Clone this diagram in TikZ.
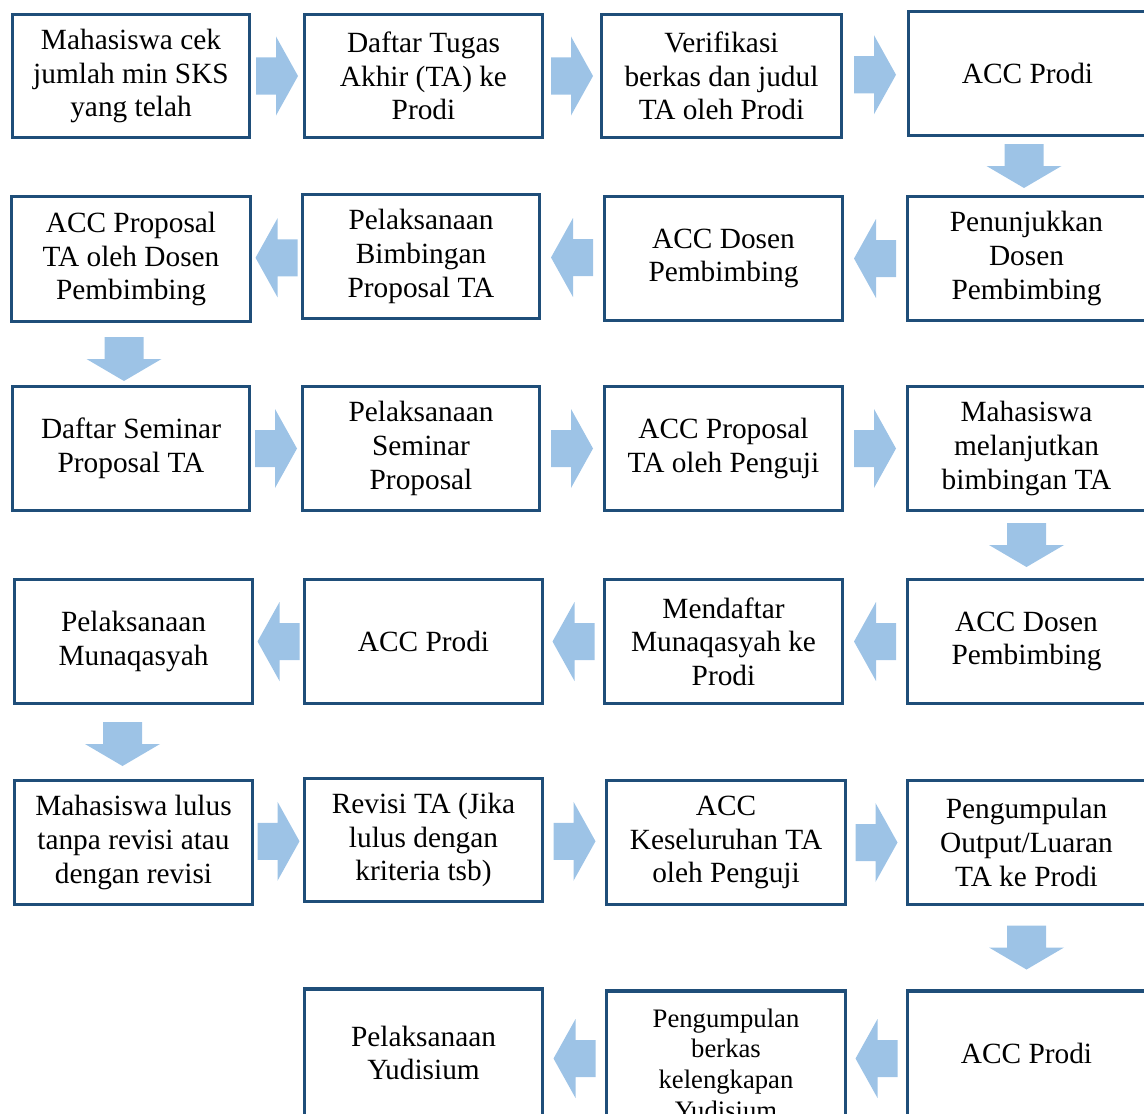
\documentclass[tikz,border=0pt]{standalone}
\usepackage{fontspec}
\newfontfamily\tnr{Liberation Serif}
\usetikzlibrary{calc}
\definecolor{boxline}{HTML}{1F4E79}
\definecolor{arrowfill}{HTML}{9DC3E6}
\tikzset{
  box/.style={draw=boxline, line width=2.6pt, inner sep=0pt,
    align=center, font=\tnr\fontsize{22}{25.2}\selectfont},
  smalltext/.style={font=\tnr\fontsize{20}{23}\selectfont},
  harrow/.pic={\fill[arrowfill] (-21,-18.5) -- (-1,-18.5) -- (-1,-39.5) -- (21,0)
     -- (-1,39.5) -- (-1,18.5) -- (-21,18.5) -- cycle;},
  varrow/.pic={\fill[arrowfill] (-22,-19.5) -- (0,-19.5) -- (0,-37.5) -- (22,0)
     -- (0,37.5) -- (0,19.5) -- (-22,19.5) -- cycle;},
}
% \bxx[extra]{name}{left}{top}{right}{bottom}{text}
\newcommand\bxx[7][]{\node[box,#1,
   minimum width={(#5-#3-3.5)*0.75pt},
   minimum height={(#6-#4-3.5)*0.75pt}]
   (#2) at ({(#3+#5)/2},{(#4+#6)/2}) {#7};}
\begin{document}
\begin{tikzpicture}[x=0.75pt,y=-0.75pt]
\useasboundingbox (0,0) rectangle (1144,1113);
% row 1
\bxx{A1}{11}{13}{251}{139}{Mahasiswa cek\\jumlah min SKS\\yang telah}
\bxx{A2}{303}{13}{544}{139}{Daftar Tugas\\Akhir (TA) ke\\Prodi}
\bxx{A3}{600}{13}{843}{139}{Verifikasi\\berkas dan judul\\TA oleh Prodi}
\bxx{A4}{907}{10}{1148}{137}{ACC Prodi}
% row 2
\bxx{B1}{10}{195}{252}{323}{ACC Proposal\\TA oleh Dosen\\Pembimbing}
\bxx{B2}{301}{193}{541}{320}{Pelaksanaan\\Bimbingan\\Proposal TA}
\bxx{B3}{603}{195}{844}{322}{ACC Dosen\\Pembimbing}
\bxx{B4}{906}{195}{1147}{322}{Penunjukkan\\Dosen\\Pembimbing}
% row 3
\bxx{C1}{11}{385}{251}{512}{Daftar Seminar\\Proposal TA}
\bxx{C2}{301}{385}{541}{512}{Pelaksanaan\\Seminar\\Proposal}
\bxx{C3}{603}{385}{844}{512}{ACC Proposal\\TA oleh Penguji}
\bxx{C4}{906}{385}{1147}{512}{Mahasiswa\\melanjutkan\\bimbingan TA}
% row 4
\bxx{D1}{13}{578}{254}{705}{Pelaksanaan\\Munaqasyah}
\bxx{D2}{303}{578}{544}{705}{ACC Prodi}
\bxx{D3}{603}{578}{844}{705}{Mendaftar\\Munaqasyah ke\\Prodi}
\bxx{D4}{906}{578}{1147}{705}{ACC Dosen\\Pembimbing}
% row 5
\bxx{E1}{13}{779}{254}{906}{Mahasiswa lulus\\tanpa revisi atau\\dengan revisi}
\bxx{E2}{303}{777}{544}{903}{Revisi TA (Jika\\lulus dengan\\kriteria tsb)}
\bxx{E3}{605}{779}{847}{906}{ACC\\Keseluruhan TA\\oleh Penguji}
\bxx{E4}{906}{779}{1147}{906}{Pengumpulan\\Output/Luaran\\TA ke Prodi}
% row 6
\bxx{F2}{303}{987}{544}{1119}{Pelaksanaan\\Yudisium}
\bxx[smalltext]{F3}{605}{989}{847}{1139}{Pengumpulan\\berkas\\kelengkapan\\Yudisium}
\bxx{F4}{906}{989}{1147}{1117}{ACC Prodi}
% horizontal arrows
\pic at ($(A1.east)!0.5!(A2.west)$) {harrow};
\pic at ($(A2.east)!0.5!(A3.west)$) {harrow};
\pic at ($(A3.east)!0.5!(A4.west)$) {harrow};
\pic[rotate=180] at ($(B4.west)!0.5!(B3.east)$) {harrow};
\pic[rotate=180] at ($(B3.west)!0.5!(B2.east)$) {harrow};
\pic[rotate=180] at ($(B2.west)!0.5!(B1.east)$) {harrow};
\pic at ($(C1.east)!0.5!(C2.west)$) {harrow};
\pic at ($(C2.east)!0.5!(C3.west)$) {harrow};
\pic at ($(C3.east)!0.5!(C4.west)$) {harrow};
\pic[rotate=180] at ($(D4.west)!0.5!(D3.east)$) {harrow};
\pic[rotate=180] at ($(D3.west)!0.5!(D2.east)$) {harrow};
\pic[rotate=180] at ($(D2.west)!0.5!(D1.east)$) {harrow};
\pic at ($(E1.east)!0.5!(E2.west)$) {harrow};
\pic at ($(E2.east)!0.5!(E3.west)$) {harrow};
\pic at ($(E3.east)!0.5!(E4.west)$) {harrow};
\pic[rotate=180] at ($(F4.west)!0.5!(F3.east)$) {harrow};
\pic[rotate=180] at ($(F3.west)!0.5!(F2.east)$) {harrow};
% vertical arrows
\pic[rotate=-90] at ($(A4.south)!0.5!(B4.north)+(-3,0)$) {varrow};
\pic[rotate=-90] at ($(B1.south)!0.5!(C1.north)+(-7,5)$) {varrow};
\pic[rotate=-90] at ($(C4.south)!0.5!(D4.north)$) {varrow};
\pic[rotate=-90] at ($(D1.south)!0.5!(E1.north)+(-11,2)$) {varrow};
\pic[rotate=-90] at ($(E4.south)!0.5!(F4.north)$) {varrow};
\end{tikzpicture}
\end{document}
